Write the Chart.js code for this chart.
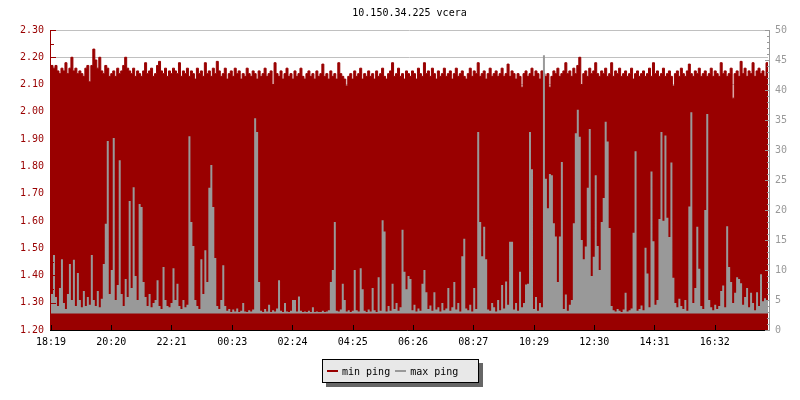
<!DOCTYPE html>
<html>
<head>
<meta charset="utf-8">
<script src="https://cdn.jsdelivr.net/npm/chart.js@4/dist/chart.umd.min.js"></script>
<style>
  body { margin: 0; background: #fff; }
  #wrap { position: relative; width: 800px; height: 400px; }
  #legend {
    position: absolute; left: 322px; top: 359px; width: 151px; height: 22px;
    border: 1px solid #000; background: #e8e8e8; box-shadow: 4px 4px 0 #666;
    font: 10px 'DejaVu Sans Mono', monospace; color: #000;
    display: flex; align-items: center; padding-left: 4px; box-sizing: content-box;
  }
  #legend span.sw { display: inline-block; width: 11px; height: 2px; margin: 0 4px 0 0; }
  #legend span.tx { margin-right: 5px; }
</style>
</head>
<body>
<div id="wrap">
  <canvas id="chart" width="800" height="400"></canvas>
  <div id="legend">
    <span class="sw" style="background:#990000"></span><span class="tx">min ping</span>
    <span class="sw" style="background:#999999"></span><span class="tx">max ping</span>
  </div>
</div>
<script>
var title = '10.150.34.225 vcera';
var tickLabels = ['18:19','20:20','22:21','00:23','02:24','04:25','06:26','08:27','10:29','12:30','14:31','16:32'];
var tickMinutes = [0,121,242,364,485,606,727,848,970,1091,1212,1333];
var stepMinutes = 4;

// min ping (ms), left axis, one value every 4 minutes
var minPing = [
  2.17,2.16,2.17,2.15,2.14,2.16,2.15,2.18,2.14,2.16,2.20,2.15,2.16,2.14,2.15,2.14,2.13,2.16,2.17,2.11,
  2.17,2.23,2.19,2.16,2.20,2.15,2.14,2.17,2.16,2.13,2.14,2.15,2.13,2.16,2.14,2.15,2.17,2.20,2.16,2.15,
  2.14,2.16,2.13,2.15,2.14,2.13,2.15,2.18,2.14,2.15,2.16,2.13,2.14,2.17,2.185,2.15,2.14,2.16,2.13,2.15,
  2.14,2.16,2.15,2.14,2.18,2.13,2.15,2.14,2.16,2.13,2.15,2.14,2.12,2.16,2.14,2.15,2.13,2.18,2.14,2.15,
  2.13,2.16,2.14,2.185,2.15,2.13,2.14,2.16,2.12,2.14,2.15,2.13,2.16,2.14,2.15,2.12,2.14,2.13,2.16,2.14,
  2.13,2.15,2.14,2.12,2.15,2.13,2.14,2.16,2.13,2.14,2.15,2.10,2.18,2.14,2.13,2.15,2.12,2.14,2.16,2.13,
  2.14,2.12,2.15,2.13,2.14,2.16,2.13,2.12,2.14,2.15,2.13,2.14,2.12,2.15,2.13,2.14,2.175,2.13,2.14,2.12,
  2.15,2.13,2.14,2.12,2.18,2.14,2.13,2.12,2.095,2.13,2.14,2.12,2.15,2.13,2.14,2.16,2.12,2.14,2.13,2.15,
  2.13,2.14,2.12,2.15,2.13,2.14,2.16,2.13,2.12,2.14,2.15,2.18,2.13,2.14,2.16,2.13,2.14,2.12,2.15,2.14,
  2.13,2.15,2.14,2.12,2.16,2.14,2.13,2.18,2.14,2.15,2.13,2.16,2.14,2.12,2.15,2.13,2.14,2.16,2.13,2.14,
  2.15,2.12,2.14,2.16,2.13,2.14,2.15,2.13,2.12,2.14,2.16,2.13,2.15,2.14,2.18,2.13,2.14,2.15,2.12,2.14,
  2.16,2.13,2.14,2.15,2.13,2.14,2.16,2.13,2.14,2.175,2.13,2.15,2.14,2.12,2.14,2.13,2.09,2.14,2.15,2.13,
  2.14,2.16,2.13,2.15,2.14,2.12,2.15,2.14,2.13,2.14,2.09,2.13,2.15,2.14,2.16,2.13,2.14,2.15,2.18,2.14,
  2.15,2.13,2.16,2.14,2.17,2.20,2.10,2.14,2.15,2.13,2.16,2.14,2.15,2.18,2.14,2.13,2.15,2.14,2.16,2.13,
  2.14,2.18,2.13,2.15,2.14,2.16,2.13,2.14,2.15,2.13,2.14,2.16,2.12,2.14,2.15,2.13,2.14,2.15,2.13,2.14,
  2.16,2.13,2.18,2.14,2.15,2.13,2.14,2.16,2.13,2.14,2.15,2.13,2.095,2.14,2.15,2.13,2.16,2.14,2.13,2.15,
  2.175,2.14,2.13,2.15,2.14,2.16,2.13,2.14,2.15,2.13,2.14,2.16,2.13,2.15,2.14,2.13,2.18,2.14,2.15,2.13,
  2.14,2.16,2.05,2.14,2.15,2.13,2.185,2.14,2.16,2.13,2.15,2.14,2.18,2.13,2.15,2.16,2.14,2.15,2.13,2.18
];

// max ping (ms), right axis
var maxPing = [
  6,12.5,5.5,4,7,11.8,4.5,3.5,6,11,5,11.7,4,9.5,5,3.8,6.5,4,5.5,4.2,
  12.5,5,4,6.5,3.8,5.2,11,17.7,31.5,6,10,32,5,7.5,28.3,6,4,8.5,5.5,21.5,
  7,23.8,9,5,21,20.5,8,5.5,4,6,3.8,4.5,5,8.3,4,3.5,10.5,5,4,3.8,
  4.5,10.3,5,7.7,4,3.5,5,3.8,4.2,32.3,18,14,5,4,3.5,11.8,6,13.3,8,23.7,
  27.5,20.5,12,4,3.5,5,10.8,4,3.2,3.5,3.0,3.4,3.1,3.6,3.0,3.2,4.5,3.1,3.0,3.3,
  3.1,3.4,35.3,33,8,3.2,3.0,3.5,3.1,4.2,3.0,3.3,3.1,3.6,8.3,3.2,3.0,4.5,3.1,3.0,
  3.2,5,5,3.1,5.6,3.2,3.0,3.1,3.0,3.2,3.0,3.8,3.0,3.1,3.0,3.0,3.2,3.0,3.1,3.3,
  8,10,18,3.2,3.1,3.4,7.7,5,3.1,3.3,3.0,3.2,10,3.3,3.1,10.3,6.8,3.2,3.0,3.4,
  3.1,7,3.3,3.0,8.8,3.2,18.3,16.4,3.1,4,3.2,7.7,3.5,4.5,3.2,3.8,16.7,9.7,6.8,9,
  8.5,3.3,4.2,3.1,3.6,3.2,7.7,10,6.3,3.5,4.1,3.2,6.3,3.4,3.8,3.1,4.5,3.3,3.6,7,
  3.2,3.8,8,3.4,4.5,3.1,12.3,15.2,3.6,3.3,4.2,3.1,7,3.5,33,18,12.3,17.2,11.8,3.4,
  3.2,4.5,3.8,3.1,5,3.3,7.5,3.6,8.1,4.2,14.7,14.7,3.4,4.5,3.2,9.7,3.8,4.5,7.6,7.7,
  33,26.8,3.5,5.5,3.2,4.5,3.8,45.8,25.2,20.3,26,25.8,17.8,15.6,8,15.6,28,3.5,5.9,3.2,
  4.2,5,17.8,32.8,36.7,32.2,15,11.8,13.9,23.7,33.5,9,12.2,25.8,14,10,18,22,34.7,31.4,
  17,4,3.3,3.1,3.5,3.2,3.0,3.4,6.2,3.1,3.3,3.6,16.2,29.8,3.2,3.5,4.1,3.3,13.7,9.4,
  3.8,26.4,14.8,4.2,5,18.5,33,18.2,32.4,18.7,15.5,27.9,8.7,4.5,3.8,5.2,4,3.5,5,3.2,
  20.6,36.3,4.5,7,17.2,10.2,4,3.5,20,36,5,3.8,3.3,4.2,3.5,4,6.5,7.4,3.8,17.3,
  10.5,8,4.5,6.2,8.8,8.5,7.8,4.2,5.5,7,3.8,6.2,4.5,3.3,6.3,4,9.3,4.8,5.3,5
];

function toPoints(arr) {
  var pts = arr.map(function(v, i){ return {x: i * stepMinutes, y: v}; });
  pts.push({x: arr.length * stepMinutes, y: arr[arr.length - 1]});
  return pts;
}

var monoFont = {family: "'DejaVu Sans Mono', monospace", size: 10, weight: 'normal'};

// axis lines and inward tick marks, drawn on top of the filled areas
var axisMarks = {
  id: 'axisMarks',
  afterDatasetsDraw: function(chart) {
    var c = chart.ctx, a = chart.chartArea;
    var sx = chart.scales.x, sy = chart.scales.y, sy1 = chart.scales.y1;
    c.save();
    c.lineWidth = 1;

    c.strokeStyle = '#990000';
    c.beginPath();
    c.moveTo(a.left - 0.5, a.top); c.lineTo(a.left - 0.5, a.bottom);
    for (var k = 0; k <= 22; k++) {
      var py = Math.round(sy.getPixelForValue(1.2 + k * 0.05)) + 0.5;
      c.moveTo(a.left - 1, py); c.lineTo(a.left + (k % 2 === 0 ? 5 : 3), py);
    }
    c.stroke();

    c.strokeStyle = '#999999';
    c.beginPath();
    c.moveTo(a.right + 1.5, a.top); c.lineTo(a.right + 1.5, a.bottom);
    for (var m = 0; m <= 50; m++) {
      var qy = Math.round(sy1.getPixelForValue(m)) + 0.5;
      c.moveTo(a.right + 2, qy); c.lineTo(a.right + (m % 5 === 0 ? -3 : -1), qy);
    }
    c.stroke();

    c.strokeStyle = '#000';
    c.beginPath();
    c.moveTo(a.left - 1, a.bottom + 0.5); c.lineTo(a.right - 3, a.bottom + 0.5);
    tickMinutes.forEach(function(t){
      var px = Math.round(sx.getPixelForValue(t)) + 0.5;
      c.moveTo(px, a.bottom); c.lineTo(px, a.bottom - 5);
    });
    c.stroke();
    c.restore();
  }
};

var ctx = document.getElementById('chart').getContext('2d');
var myChart = new Chart(ctx, {
  type: 'line',
  data: {
    datasets: [
      {
        label: 'min ping', data: toPoints(minPing), yAxisID: 'y',
        stepped: 'before', borderWidth: 1, borderColor: '#990000', backgroundColor: '#990000',
        fill: 'start', pointRadius: 0, order: 2
      },
      {
        label: 'max ping', data: toPoints(maxPing), yAxisID: 'y1',
        stepped: 'before', borderWidth: 0, borderColor: '#999999', backgroundColor: '#999999',
        fill: {value: 2.75}, pointRadius: 0, order: 1
      }
    ]
  },
  options: {
    responsive: false,
    animation: false,
    layout: {padding: 0},
    plugins: {
      legend: {display: false},
      tooltip: {enabled: false},
      title: {
        display: true, text: title, fullSize: false, color: '#000',
        font: monoFont, padding: {top: 7, bottom: 11}
      }
    },
    scales: {
      x: {
        type: 'linear', min: 0, max: 1440,
        grid: {display: false, drawTicks: false},
        border: {display: false},
        ticks: {
          color: '#000', font: monoFont, padding: 6, maxRotation: 0, autoSkip: false,
          callback: function(v){ var i = tickMinutes.indexOf(v); return i < 0 ? '' : tickLabels[i]; }
        },
        afterBuildTicks: function(s){ s.ticks = tickMinutes.map(function(v){ return {value: v}; }); },
        afterFit: function(s){ s.height = 70; }
      },
      y: {
        position: 'left', min: 1.2, max: 2.3,
        grid: {color: '#c0c0c0', drawTicks: false},
        border: {display: false},
        ticks: {
          stepSize: 0.1, color: '#990000', font: monoFont, padding: 7,
          callback: function(v){ return Number(v).toFixed(2); }
        },
        afterFit: function(s){ s.width = 51; }
      },
      y1: {
        position: 'right', min: 0, max: 50,
        grid: {drawOnChartArea: false, drawTicks: false},
        border: {display: false},
        ticks: {stepSize: 5, color: '#999999', font: monoFont, padding: 7},
        afterFit: function(s){ s.width = 32; }
      }
    }
  },
  plugins: [axisMarks]
});
</script>
</body>
</html>
